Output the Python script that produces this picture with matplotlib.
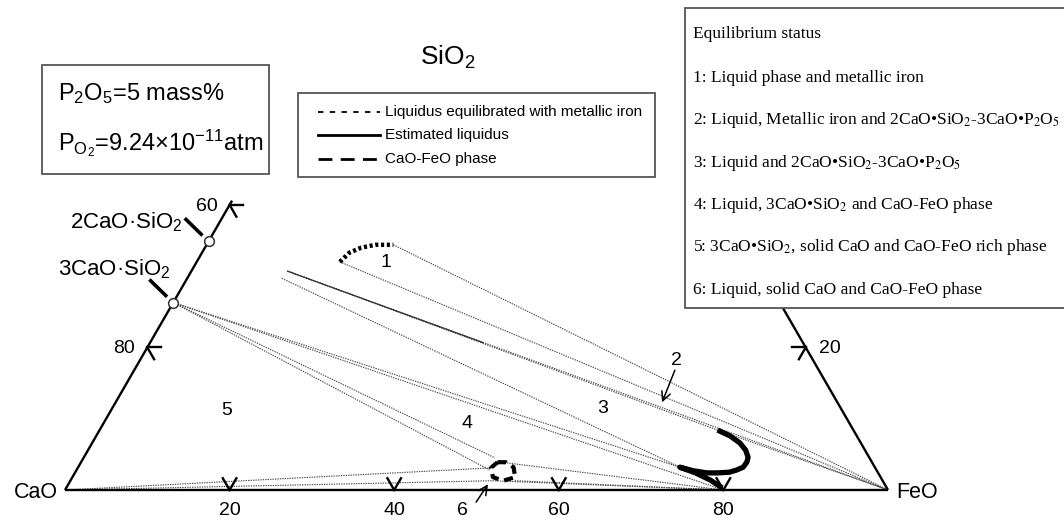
import numpy as np
import matplotlib
matplotlib.use('Agg')
import matplotlib.pyplot as plt
from matplotlib.lines import Line2D
from matplotlib.patches import Rectangle

plt.rcParams['font.family'] = ['Liberation Sans', 'DejaVu Sans']
plt.rcParams['mathtext.fontset'] = 'custom'
plt.rcParams['mathtext.rm'] = 'Liberation Sans'
plt.rcParams['mathtext.it'] = 'Liberation Sans:italic'
plt.rcParams['mathtext.bf'] = 'Liberation Sans:bold'

# ---------------- data (mass% FeO, mass% SiO2; CaO = balance) ----------------
bottom_ticks = [20, 40, 60, 80]          # FeO mass% on CaO-FeO join
left_ticks = [80, 60]                    # CaO mass% on CaO-SiO2 join
right_ticks = [20]                       # SiO2 mass% on FeO-SiO2 join
compound_names = ['2CaO·SiO$_2$', '3CaO·SiO$_2$']
compound_sio2 = [34.9, 26.3]

# liquidus equilibrated with metallic iron (dotted thick curve)
liq_fe_feo = [17.4, 17.9, 19.0, 20.5, 22.7]
liq_fe_sio2 = [32.0, 33.3, 34.0, 34.4, 34.4]

# estimated liquidus (solid thick curve)
est_liq_feo = [75.1, 77.0, 78.7, 79.9, 80.7, 80.9, 80.8, 80.2, 79.5, 78.1, 76.8, 75.0, 73.1, 75.4, 77.7, 79.7]
est_liq_sio2 = [8.4, 7.6, 6.6, 5.6, 4.6, 3.9, 3.2, 2.8, 2.5, 2.4, 2.4, 2.7, 3.2, 2.4, 1.4, 0.3]

# CaO-FeO phase (dashed loop)
cafeo_feo = [50.6, 50.2, 51.1, 52.6, 53.8, 52.9, 51.6, 50.6]
cafeo_sio2 = [3.9, 3.1, 1.8, 1.3, 1.8, 3.2, 3.9, 3.9]

# tie lines (dotted)
tie_a_feo = [22.7, 17.4, 11.7, 11.7, 75.1, 11.5, 0.0, 0.0, 0.0, 0.0, 0.0, 0.0, 51.8, 54.0, 51.3]
tie_a_sio2 = [34.4, 32.0, 30.7, 30.7, 8.4, 29.7, 26.3, 26.3, 26.3, 26.3, 0.0, 0.0, 3.8, 1.3, 1.3]
tie_b_feo = [100.0, 100.0, 100.0, 75.1, 100.0, 73.1, 73.1, 80.0, 50.0, 50.2, 50.2, 51.3, 80.0, 80.0, 80.0]
tie_b_sio2 = [0.0, 0.0, 0.0, 8.4, 0.0, 3.2, 3.2, 0.0, 4.5, 2.8, 3.1, 1.3, 0.0, 0.0, 0.0]

# thin solid segment
thin_feo = [11.7, 40.4]
thin_sio2 = [30.7, 20.7]

region_labels = ['1', '2', '3', '4', '5', '6']
region_feo = [23.0, 65.2, 59.6, 44.1, 14.1, 49.7]
region_sio2 = [31.9, 18.2, 11.5, 9.4, 11.2, -2.9]

arrow2_feo = [65.7, 66.4]
arrow2_sio2 = [16.8, 12.3]
arrow6_feo = [50.8, 51.0]
arrow6_sio2 = [-1.7, 0.8]

legend_labels = ['Liquidus equilibrated with metallic iron', 'Estimated liquidus', 'CaO-FeO phase']
status_title = 'Equilibrium status'
status_lines = [
    '1: Liquid phase and metallic iron',
    '2: Liquid, Metallic iron and 2CaO•SiO$_2$-3CaO•P$_2$O$_5$',
    '3: Liquid and 2CaO•SiO$_2$-3CaO•P$_2$O$_5$',
    '4: Liquid, 3CaO•SiO$_2$ and CaO-FeO phase',
    '5: 3CaO•SiO$_2$, solid CaO and CaO-FeO rich phase',
    '6: Liquid, solid CaO and CaO-FeO phase',
]
cond_lines = ['P$_2$O$_5$=5 mass%', 'P$_{\\mathrm{O}_2}$=9.24×10$^{-11}$atm']

# ---------------- figure ----------------
W, H = 1064, 521
fig = plt.figure(figsize=(W / 100, H / 100), dpi=100)
ax = fig.add_axes([0, 0, 1, 1])
S = 8.23           # pixels per mass%
X0, Y0 = 65, 490   # CaO vertex in pixels
ax.set_xlim(-X0 / S, (W - X0) / S)
ax.set_ylim(-(H - Y0) / S, Y0 / S)
ax.axis('off')
R3 = np.sqrt(3) / 2


def tern(feo, sio2):
    feo = np.asarray(feo, float)
    sio2 = np.asarray(sio2, float)
    return feo + sio2 / 2, sio2 * R3


def fpix(x, y):
    return x / W, 1 - y / H


def off(px, py):
    return px / S, -py / S


# triangle frame
for a, b in [((0, 0), (100, 0)), ((0, 0), (0, 40.6)), ((100, 0), (59.6, 40.4))]:
    xs, ys = tern([a[0], b[0]], [a[1], b[1]])
    ax.plot(xs, ys, color='black', lw=1.7, zorder=3, solid_capstyle='butt')

TL = 1.65
# bottom ticks
for t in bottom_ticks:
    x, y = tern(t, 0)
    for d in [(-0.5, R3), (0.5, R3)]:
        ax.plot([x, x + TL * d[0]], [y, y + TL * d[1]], color='black', lw=1.7, zorder=3)
    dx, dy = off(0, 25)
    ax.text(x + dx, y + dy, str(t), ha='center', va='baseline', fontsize=14)
# left ticks (CaO)
for t in left_ticks:
    x, y = tern(0, 100 - t)
    for d in [(1, 0), (0.5, -R3)]:
        ax.plot([x, x + TL * d[0]], [y, y + TL * d[1]], color='black', lw=1.7, zorder=3)
    dx, dy = off(-23, 6)
    ax.text(x + dx, y + dy, str(t), ha='center', va='baseline', fontsize=14)
# right ticks (SiO2)
for t in right_ticks:
    x, y = tern(100 - t, t)
    for d in [(-1, 0), (-0.5, -R3)]:
        ax.plot([x, x + TL * d[0]], [y, y + TL * d[1]], color='black', lw=1.7, zorder=3)
    dx, dy = off(24, 6)
    ax.text(x + dx, y + dy, str(t), ha='center', va='baseline', fontsize=14)

# vertex labels
x, y = tern(0, 0)
ax.text(x + off(-7, 0)[0], y + off(0, 8)[1], 'CaO', ha='right', va='baseline', fontsize=15.5)
x, y = tern(100, 0)
ax.text(x + off(8, 0)[0], y + off(0, 8)[1], 'FeO', ha='left', va='baseline', fontsize=15.5)
fig.text(*fpix(420, 65), 'SiO$_2$', ha='left', va='baseline', fontsize=19)

# tie lines
for fa, sa, fb, sb in zip(tie_a_feo, tie_a_sio2, tie_b_feo, tie_b_sio2):
    xs, ys = tern([fa, fb], [sa, sb])
    ax.plot(xs, ys, color='#444444', lw=0.8, linestyle=(0, (1.2, 1.0)), zorder=2)
xs, ys = tern(thin_feo, thin_sio2)
ax.plot(xs, ys, color='#333333', lw=0.9, zorder=2)

# curves
xs, ys = tern(liq_fe_feo, liq_fe_sio2)
ax.plot(xs, ys, color='black', lw=3.2, linestyle=(0, (0.7, 0.6)), zorder=4)
xs, ys = tern(est_liq_feo, est_liq_sio2)
ax.plot(xs, ys, color='black', lw=3.8, zorder=4, solid_joinstyle='round', solid_capstyle='butt')
xs, ys = tern(cafeo_feo, cafeo_sio2)
ax.plot(xs, ys, color='black', lw=3.0, linestyle=(0, (2.2, 1.4)), zorder=4)

# compounds
for name, s in zip(compound_names, compound_sio2):
    x, y = tern(0, s)
    ax.plot([x - 0.75, x - 2.9], [y + 0.7, y + 2.8], color='black', lw=2.6, zorder=4, solid_capstyle='butt')
    ax.plot([x], [y], marker='o', ms=7, mfc='white', mec='#333333', mew=1.1, zorder=5)
fig.text(*fpix(183, 228), compound_names[0], ha='right', va='baseline', fontsize=16)
fig.text(*fpix(171, 275), compound_names[1], ha='right', va='baseline', fontsize=16)

# region labels
for lab, f, s in zip(region_labels, region_feo, region_sio2):
    x, y = tern(f, s)
    ax.text(x, y, lab, ha='center', va='center', fontsize=14)

for fs, ss in [(arrow2_feo, arrow2_sio2), (arrow6_feo, arrow6_sio2)]:
    xs, ys = tern(fs, ss)
    ax.annotate('', xy=(xs[1], ys[1]), xytext=(xs[0], ys[0]),
                arrowprops=dict(arrowstyle='->', lw=1.1, color='black', shrinkA=0, shrinkB=0,
                                mutation_scale=16), zorder=5)

# ---------------- boxes ----------------
def box(x0, y0, x1, y1):
    r = Rectangle(fpix(x0, y1), (x1 - x0) / W, (y1 - y0) / H, transform=fig.transFigure,
                  facecolor='white', edgecolor='#555555', lw=1.3, zorder=10, clip_on=False)
    ax.add_patch(r)

# conditions box
box(42, 65, 269, 174)
fig.text(*fpix(58, 100), cond_lines[0], ha='left', va='baseline', fontsize=17, zorder=11)
fig.text(*fpix(58, 150), cond_lines[1], ha='left', va='baseline', fontsize=17, zorder=11)

# legend box
box(298, 93, 655, 177)
leg_y = [112, 135, 159]
leg_styles = [dict(lw=1.3, linestyle=(0, (3, 3.5))), dict(lw=2.0, linestyle='-'),
              dict(lw=2.0, linestyle=(0, (5, 3)))]
for yy, st, lab in zip(leg_y, leg_styles, legend_labels):
    (xa, ya), (xb, yb) = fpix(318, yy), fpix(380, yy)
    ln = Line2D([xa, xb], [ya, yb], transform=fig.transFigure, color='black', zorder=11, **st)
    ax.add_line(ln)
    ln.set_clip_on(False)
    fig.text(*fpix(385, yy), lab, ha='left', va='center', fontsize=11, zorder=11)

# equilibrium status box
box(685, 8, 1075, 308)
fig.text(*fpix(693, 38), status_title, ha='left', va='baseline', fontsize=12.5,
         family='Liberation Serif', zorder=11)
for i, line in enumerate(status_lines):
    fig.text(*fpix(693, 82 + 42.3 * i), line, ha='left', va='baseline', fontsize=12.5,
             family='Liberation Serif', math_fontfamily='stix', zorder=11)

fig.savefig('out.png', dpi=100)
